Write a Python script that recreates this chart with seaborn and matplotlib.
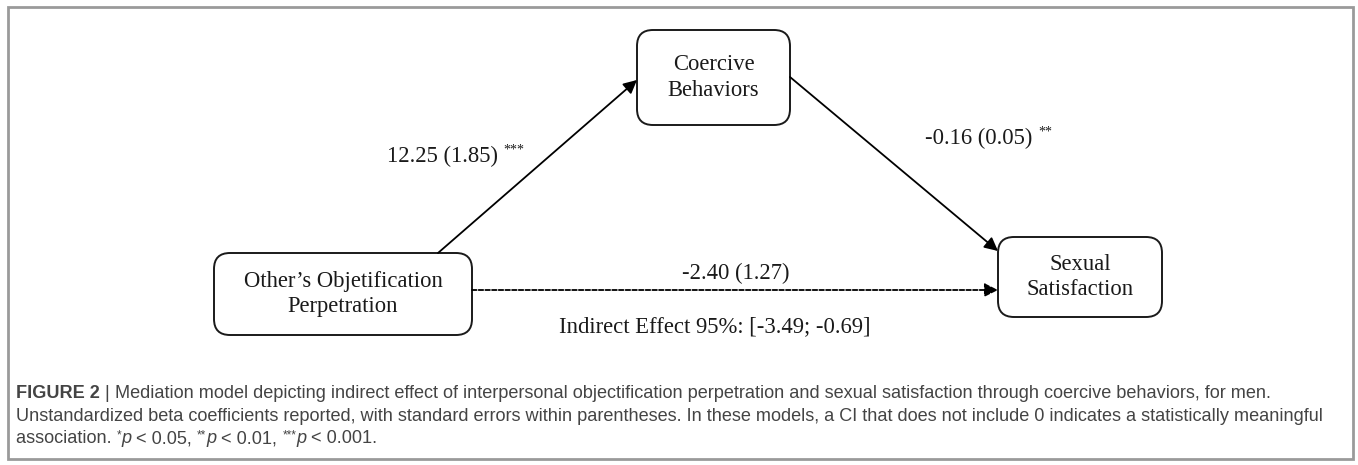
"""Mediation model diagram (Figure 2) redrawn with seaborn / matplotlib"""

import matplotlib
matplotlib.use("Agg")
import matplotlib.pyplot as plt
from matplotlib.patches import FancyBboxPatch, Rectangle
import seaborn as sns

# data
nodes = ["Other\u2019s Objetification\nPerpetration", "Coercive\nBehaviors",
         "Sexual\nSatisfaction"]
path_b = [12.25, -0.16, -2.40]
path_se = [1.85, 0.05, 1.27]
path_stars = ["***", "**", ""]
indirect_ci = [-3.49, -0.69]
caption_lines = [
    [("FIGURE 2", "bold"), (" | ", "normal"),
     ("Mediation model depicting indirect effect of interpersonal objectification "
      "perpetration and sexual satisfaction through coercive behaviors, for men.", "normal")],
    [("Unstandardized beta coefficients reported, with standard errors within parentheses. "
      "In these models, a CI that does not include 0 indicates a statistically meaningful", "normal")],
    [("association. ", "normal"), ("*", "sup"), ("p", "italic"), (" < 0.05, ", "normal"),
     ("**", "sup"), ("p", "italic"), (" < 0.01, ", "normal"), ("***", "sup"),
     ("p", "italic"), (" < 0.001.", "normal")],
]

# layout (pixels)
W, H = 1358, 465
boxes = {0: (214, 253, 258, 82), 1: (637, 30, 153, 95), 2: (998, 237, 164, 80)}

sns.set_theme(style="white")
plt.rcParams["font.family"] = ["Liberation Serif", "DejaVu Serif"]

fig = plt.figure(figsize=(W / 100, H / 100), dpi=100)
ax = fig.add_axes([0, 0, 1, 1])
ax.set_xlim(0, W)
ax.set_ylim(H, 0)
ax.axis("off")

# outer frame
ax.add_patch(Rectangle((8, 7), 1345, 452, fill=False, edgecolor="#9a9a9a", lw=2))

# node boxes
for i, name in enumerate(nodes):
    x0, y0, w, h = boxes[i]
    ax.add_patch(FancyBboxPatch((x0, y0), w, h,
                                boxstyle="round,pad=0,rounding_size=16",
                                facecolor="white", edgecolor="#1a1a1a", lw=1.4))
    ax.text(x0 + w / 2, y0 + h / 2, name, ha="center", va="center",
            fontsize=16.3, linespacing=1.28, color="#1a1a1a")

# paths
arrow = dict(arrowstyle="-|>", color="black", lw=1.3, mutation_scale=20,
             shrinkA=0, shrinkB=0)
ax.annotate("", xy=(637, 80), xytext=(438, 253), arrowprops=arrow)
ax.annotate("", xy=(998, 251), xytext=(790, 77), arrowprops=arrow)
ax.annotate("", xy=(998, 290), xytext=(472, 290),
            arrowprops=dict(arrow, linestyle=(0, (2.5, 1.2))))

fig.canvas.draw()
renderer = fig.canvas.get_renderer()


def put_runs(x, y, runs, size, color, family, sup_size, sup_shift):
    """lay consecutive text pieces on one baseline"""
    for text, kind in runs:
        kw = dict(fontsize=size, color=color, family=family, va="baseline")
        yy = y
        if kind == "bold":
            kw["fontweight"] = "bold"
        elif kind == "italic":
            kw["fontstyle"] = "italic"
        elif kind == "sup":
            kw["fontsize"] = sup_size
            yy = y - sup_shift
        t = ax.text(x, yy, text, **kw)
        x += t.get_window_extent(renderer).width


def coef(i):
    return f"{path_b[i]:.2f} ({path_se[i]:.2f})"


serif = ["Liberation Serif", "DejaVu Serif"]
put_runs(387, 162, [(coef(0) + " ", "normal"), (path_stars[0], "sup")],
         16.3, "#1a1a1a", serif, 10, 8)
put_runs(925, 144, [(coef(1) + " ", "normal"), (path_stars[1], "sup")],
         16.3, "#1a1a1a", serif, 10, 8)
ax.text(736, 279, coef(2), ha="center", va="baseline", fontsize=16.3,
        color="#1a1a1a")
ax.text(715, 332, f"Indirect Effect 95%: [{indirect_ci[0]:.2f}; {indirect_ci[1]:.2f}]",
        ha="center", va="baseline", fontsize=16.3, color="#1a1a1a")

# caption
sans = ["Liberation Sans Narrow", "Liberation Sans", "DejaVu Sans"]
for k, line in enumerate(caption_lines):
    put_runs(16, 398 + 22.5 * k, line, 13.1, "#444444", sans, 8.5, 5)

fig.savefig("out.png", dpi=100)
